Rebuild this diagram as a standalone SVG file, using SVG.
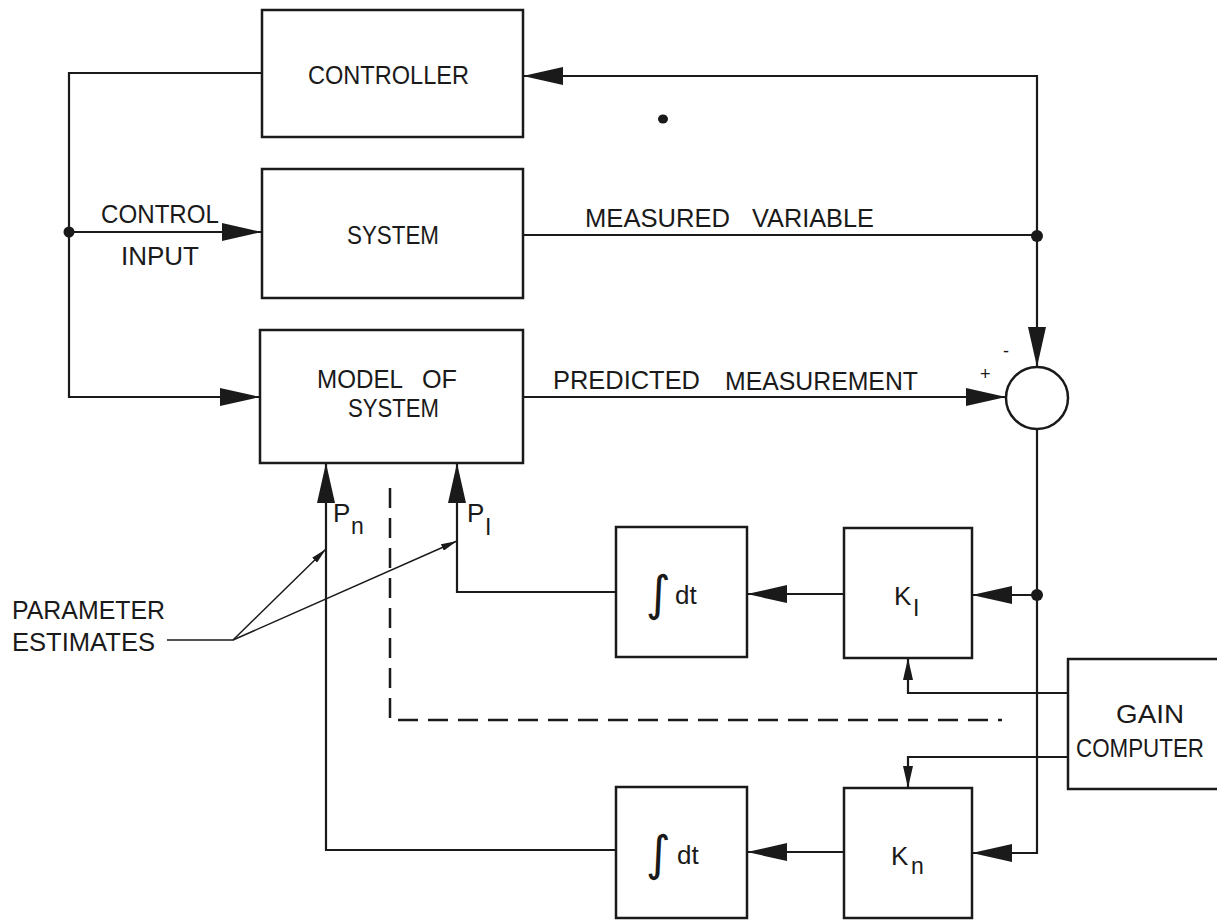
<svg xmlns="http://www.w3.org/2000/svg" width="1217" height="920" viewBox="0 0 1217 920">
<style>
.box{fill:#fff;stroke:#1a1a1a;stroke-width:2.5}
.ln{fill:none;stroke:#1a1a1a;stroke-width:2.2}
.thin{fill:none;stroke:#1a1a1a;stroke-width:1.5}
.dash{fill:none;stroke:#1a1a1a;stroke-width:2.5;stroke-dasharray:20 10}
.t{font-family:"Liberation Sans",Arial,sans-serif;font-size:26px;fill:#1a1a1a}
.s{font-family:"Liberation Sans",Arial,sans-serif;font-size:23px;fill:#1a1a1a}
.pm{font-family:"Liberation Sans",Arial,sans-serif;font-size:18px;fill:#1a1a1a}
.int{font-family:"DejaVu Sans",sans-serif;font-size:48px;fill:#1a1a1a}
.dot{fill:#1a1a1a}
</style>
<defs>
<marker id="big" viewBox="0 0 40 18" refX="40" refY="9" markerWidth="40" markerHeight="18" markerUnits="userSpaceOnUse" orient="auto"><path d="M0,0 L40,9 L0,18 z" fill="#1a1a1a"/></marker>
<marker id="small" viewBox="0 0 22 10" refX="22" refY="5" markerWidth="22" markerHeight="10" markerUnits="userSpaceOnUse" orient="auto"><path d="M0,0 L22,5 L0,10 z" fill="#1a1a1a"/></marker>
<marker id="tiny" viewBox="0 0 16 7" refX="16" refY="3.5" markerWidth="16" markerHeight="7" markerUnits="userSpaceOnUse" orient="auto"><path d="M0,0 L16,3.5 L0,7 z" fill="#1a1a1a"/></marker>
</defs>

<g id="connectors">
<path class="ln" d="M262,73 H69 V397 H260" marker-end="url(#big)"/>
<path class="ln" d="M69,232 H262" marker-end="url(#big)"/>
<path class="ln" d="M523,235 H1037"/>
<path class="ln" d="M1037,235 V76 H523" marker-end="url(#big)"/>
<path class="ln" d="M1037,235 V367" marker-end="url(#big)"/>
<path class="ln" d="M523,397 H1006" marker-end="url(#big)"/>
<path class="ln" d="M1037,429 V853 H972" marker-end="url(#big)"/>
<path class="ln" d="M1037,595 H972" marker-end="url(#big)"/>
<path class="ln" d="M844,594 H747" marker-end="url(#big)"/>
<path class="ln" d="M616,592 H457 V463" marker-end="url(#big)"/>
<path class="ln" d="M844,852 H747" marker-end="url(#big)"/>
<path class="ln" d="M616,850 H326 V463" marker-end="url(#big)"/>
<path class="ln" d="M1069,693 H908 V658" marker-end="url(#small)"/>
<path class="ln" d="M1069,757 H908 V788" marker-end="url(#small)"/>
<path class="dash" d="M390,488 V720 H1002"/>
<path class="thin" d="M167,640 H233 L326,549" marker-end="url(#tiny)"/>
<path class="thin" d="M233,640 L457,541" marker-end="url(#tiny)"/>
<circle class="dot" cx="69" cy="232" r="5.5"/>
<circle class="dot" cx="1037" cy="236" r="6"/>
<circle class="dot" cx="1037" cy="595" r="6"/>
<ellipse class="dot" cx="663" cy="119" rx="5" ry="4.5"/>
</g>

<g id="controller">
<rect class="box" x="262" y="10" width="261" height="127"/>
<text class="t" x="308" y="84" textLength="161" lengthAdjust="spacingAndGlyphs">CONTROLLER</text>
</g>

<g id="system">
<rect class="box" x="262" y="169" width="261" height="129"/>
<text class="t" x="347" y="244" textLength="92" lengthAdjust="spacingAndGlyphs">SYSTEM</text>
</g>

<g id="control-input-label">
<text class="t" x="101" y="223" textLength="118" lengthAdjust="spacingAndGlyphs">CONTROL</text>
<text class="t" x="121" y="265" textLength="78" lengthAdjust="spacingAndGlyphs">INPUT</text>
</g>

<g id="measured-variable-label">
<text class="t" x="585" y="227" textLength="145" lengthAdjust="spacingAndGlyphs">MEASURED</text>
<text class="t" x="752" y="227" textLength="122" lengthAdjust="spacingAndGlyphs">VARIABLE</text>
</g>

<g id="model">
<rect class="box" x="260" y="330" width="263" height="133"/>
<text class="t" x="317" y="388" textLength="86" lengthAdjust="spacingAndGlyphs">MODEL</text>
<text class="t" x="422" y="388" textLength="35" lengthAdjust="spacingAndGlyphs">OF</text>
<text class="t" x="348" y="417" textLength="91" lengthAdjust="spacingAndGlyphs">SYSTEM</text>
</g>

<g id="predicted-label">
<text class="t" x="553" y="389" textLength="147" lengthAdjust="spacingAndGlyphs">PREDICTED</text>
<text class="t" x="725" y="390" textLength="193" lengthAdjust="spacingAndGlyphs">MEASUREMENT</text>
</g>

<g id="summer">
<circle class="box" cx="1037" cy="398" r="31"/>
<text class="pm" x="980" y="380">+</text>
<text class="pm" x="1003" y="357">-</text>
</g>

<g id="k1">
<rect class="box" x="844" y="528" width="128" height="130"/>
<text class="t" x="894" y="605">K</text>
<text class="s" x="913" y="616">I</text>
</g>

<g id="int1">
<rect class="box" x="616" y="527" width="131" height="130"/>
<text class="int" x="646" y="610">∫</text>
<text class="t" x="675" y="604">dt</text>
</g>

<g id="kn">
<rect class="box" x="844" y="788" width="128" height="130"/>
<text class="t" x="891" y="865">K</text>
<text class="s" x="911" y="874">n</text>
</g>

<g id="intn">
<rect class="box" x="616" y="787" width="131" height="131"/>
<text class="int" x="646" y="870">∫</text>
<text class="t" x="677" y="864">dt</text>
</g>

<g id="gain-computer">
<rect class="box" x="1068" y="659" width="170" height="130"/>
<text class="t" x="1116" y="723" textLength="68" lengthAdjust="spacingAndGlyphs">GAIN</text>
<text class="t" x="1076" y="757" textLength="128" lengthAdjust="spacingAndGlyphs">COMPUTER</text>
</g>

<g id="param-labels">
<text class="t" x="333" y="522">P</text>
<text class="s" x="351" y="534">n</text>
<text class="t" x="467" y="522">P</text>
<text class="s" x="485" y="535">I</text>
</g>

<g id="parameter-estimates">
<text class="t" x="12" y="619" textLength="153" lengthAdjust="spacingAndGlyphs">PARAMETER</text>
<text class="t" x="12" y="651" textLength="143" lengthAdjust="spacingAndGlyphs">ESTIMATES</text>
</g>
</svg>
